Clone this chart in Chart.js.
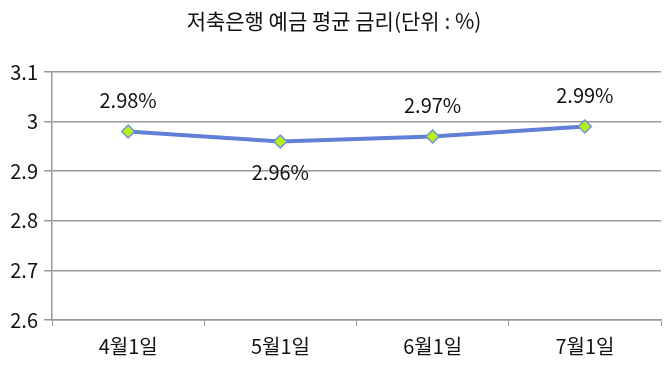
<!DOCTYPE html>
<html>
<head>
<meta charset="utf-8">
<script src="https://cdn.jsdelivr.net/npm/chart.js@4"></script>
<style>
  html, body { margin: 0; padding: 0; background: #fff; }
  #wrap { width: 670px; height: 375px; }
</style>
</head>
<body>
<div id="wrap"><canvas id="rateChart"></canvas></div>
<script>
const chartTitle = '저축은행 예금 평균 금리(단위 : %)';
const dates = ['4월1일', '5월1일', '6월1일', '7월1일'];
const rates = [2.98, 2.96, 2.97, 2.99];
const labelBelow = [false, true, false, false];

const FONT = '"Noto Sans CJK KR", "Noto Sans", sans-serif';

// title + value labels drawn on the canvas
const labelPlugin = {
    id: 'labels',
    afterDatasetsDraw(chart) {
        const ctx = chart.ctx;
        ctx.save();
        ctx.fillStyle = '#111';
        ctx.textAlign = 'center';
        ctx.textBaseline = 'middle';
        ctx.font = '21px ' + FONT;
        ctx.fillText(chartTitle, chart.width / 2 - 1, 21);

        ctx.font = '20px ' + FONT;
        const meta = chart.getDatasetMeta(0);
        meta.data.forEach((pt, i) => {
            const dy = labelBelow[i] ? 31 : -31;
            ctx.fillText(rates[i].toFixed(2) + '%', pt.x, pt.y + dy);
        });
        ctx.restore();
    }
};

new Chart(document.getElementById('rateChart'), {
    type: 'line',
    data: {
        labels: dates,
        datasets: [{
            data: rates,
            borderColor: '#5f80d6',
            borderWidth: 4,
            pointStyle: 'rectRot',
            pointRadius: 6.5,
            pointBackgroundColor: '#b6f01a',
            pointBorderColor: '#6f8fe0',
            pointBorderWidth: 1.5,
            tension: 0
        }]
    },
    options: {
        responsive: true,
        maintainAspectRatio: false,
        animation: false,
        layout: { padding: { top: 72, right: 9, left: 0, bottom: 0 } },
        plugins: {
            legend: { display: false },
            title: { display: false },
            tooltip: { enabled: false }
        },
        scales: {
            x: {
                offset: true,
                grid: {
                    offset: true,
                    drawOnChartArea: false,
                    drawTicks: true,
                    tickLength: 6,
                    color: '#999'
                },
                border: { color: '#999', width: 1.5 },
                ticks: { color: '#111', font: { family: FONT, size: 20 }, padding: 8 },
                afterFit(scale) { scale.height = 55; }
            },
            y: {
                min: 2.6,
                max: 3.1,
                grid: {
                    color: '#999',
                    lineWidth: 1.5,
                    drawTicks: true,
                    tickLength: 8
                },
                border: { color: '#999', width: 1.5 },
                ticks: {
                    stepSize: 0.1,
                    color: '#111',
                    padding: 6,
                    font: { family: FONT, size: 20 },
                    callback: v => Math.round(v * 10) / 10
                },
                afterFit(scale) { scale.width = 52; }
            }
        }
    },
    plugins: [labelPlugin]
});
</script>
</body>
</html>
